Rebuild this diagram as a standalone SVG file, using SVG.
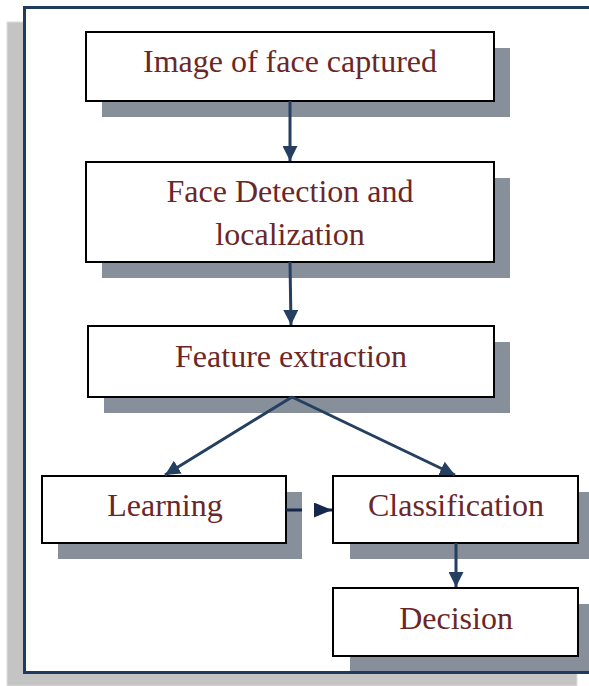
<svg xmlns="http://www.w3.org/2000/svg" width="589" height="686" viewBox="0 0 589 686">
<defs>
<style>
.shadow{fill:#868f9a;}
.box{fill:#ffffff;stroke:#000000;stroke-width:2;}
.label{font-family:"Liberation Serif","Times New Roman",serif;font-size:32px;fill:#6b2727;text-anchor:middle;}
.conn{stroke:#243f60;stroke-width:3;fill:none;}
</style>
<marker id="ah" markerWidth="5" markerHeight="5" refX="5" refY="2.5" orient="auto" markerUnits="strokeWidth">
<path d="M0,0 L5,2.5 L0,5 Z" fill="#243f60"/>
</marker>
<marker id="ah2" markerWidth="6" markerHeight="5" refX="6" refY="2.5" orient="auto" markerUnits="strokeWidth">
<path d="M0,0 L6,2.5 L0,5 Z" fill="#13284a"/>
</marker>
</defs>
<rect x="7" y="22" width="570" height="664" fill="#c4c4c4" stroke="#dedede" stroke-width="1"/>
<rect x="24.5" y="7.5" width="572" height="665" fill="#ffffff" stroke="#1f3b5e" stroke-width="3"/>

<g id="node-image">
<rect class="shadow" x="102" y="48" width="408" height="69"/>
<rect class="box" x="86" y="32" width="408" height="69"/>
<text class="label" x="290" y="72">Image of face captured</text>
</g>
<g id="node-detection">
<rect class="shadow" x="102" y="178" width="408" height="100"/>
<rect class="box" x="86" y="162" width="408" height="100"/>
<text class="label" x="290" y="202">Face Detection and</text>
<text class="label" x="290" y="245">localization</text>
</g>
<g id="node-feature">
<rect class="shadow" x="104" y="342" width="406" height="71"/>
<rect class="box" x="88" y="326" width="406" height="71"/>
<text class="label" x="291" y="367">Feature extraction</text>
</g>
<g id="node-learning">
<rect class="shadow" x="58" y="492" width="244" height="67"/>
<rect class="box" x="42" y="476" width="244" height="67"/>
<text class="label" x="165" y="516">Learning</text>
</g>
<g id="node-classification">
<rect class="shadow" x="350" y="492" width="245" height="67"/>
<rect class="box" x="333" y="476" width="245" height="67"/>
<text class="label" x="456" y="516">Classification</text>
</g>
<g id="node-decision">
<rect class="shadow" x="350" y="604" width="245" height="67"/>
<rect class="box" x="333" y="588" width="245" height="68"/>
<text class="label" x="456" y="629">Decision</text>
</g>

<g id="connectors">
<line class="conn" x1="290" y1="101" x2="290" y2="161" marker-end="url(#ah)"/>
<line class="conn" x1="290" y1="262" x2="291" y2="325" marker-end="url(#ah)"/>
<line class="conn" x1="292" y1="397" x2="165" y2="475" marker-end="url(#ah)"/>
<line class="conn" x1="292" y1="397" x2="455" y2="475" marker-end="url(#ah)"/>
<line x1="286" y1="510" x2="302" y2="510" stroke="#13284a" stroke-width="3"/>
<line x1="314" y1="510" x2="332" y2="510" stroke="#13284a" stroke-width="3" marker-end="url(#ah2)"/>
<line class="conn" x1="456" y1="543" x2="456" y2="587" marker-end="url(#ah)"/>
</g>
</svg>
